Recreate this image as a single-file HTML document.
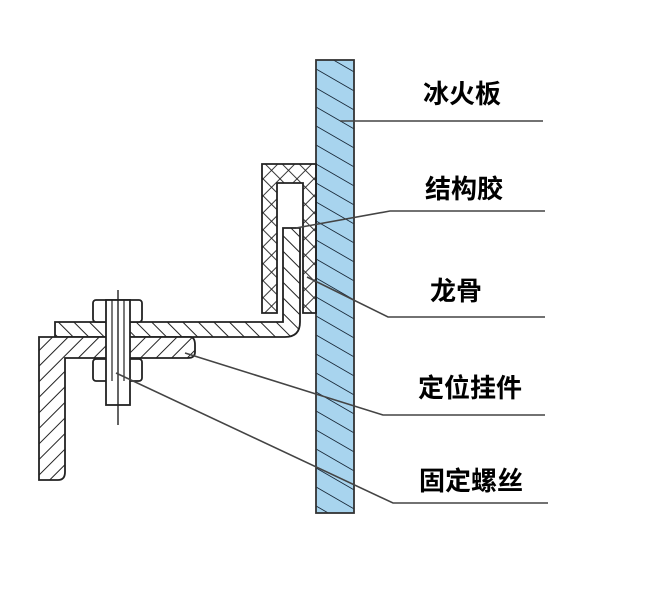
<!DOCTYPE html>
<html><head><meta charset="utf-8"><style>
html,body{margin:0;padding:0;background:#fff;width:657px;height:593px;overflow:hidden}
svg{display:block}
text{font-family:"Liberation Sans","Noto Sans CJK SC",sans-serif;font-weight:bold;font-size:26px;fill:#000}
</style></head><body>
<svg width="657" height="593" viewBox="0 0 657 593" xmlns="http://www.w3.org/2000/svg">
<defs>
<pattern id="pb" patternUnits="userSpaceOnUse" width="40" height="19" patternTransform="skewY(30)">
<line x1="0" y1="0" x2="40" y2="0" stroke="#1a2a3a" stroke-width="2"/>
</pattern>
<pattern id="hb" patternUnits="userSpaceOnUse" width="11" height="11" patternTransform="rotate(-45)">
<line x1="0" y1="0" x2="0" y2="11" stroke="#222" stroke-width="2"/>
</pattern>
<pattern id="hf" patternUnits="userSpaceOnUse" width="11" height="11" patternTransform="rotate(45)">
<line x1="0" y1="0" x2="0" y2="11" stroke="#222" stroke-width="2"/>
</pattern>
<pattern id="hx" patternUnits="userSpaceOnUse" width="12" height="12" patternTransform="rotate(45)">
<line x1="0" y1="0" x2="0" y2="12" stroke="#222" stroke-width="1.8"/>
<line x1="0" y1="0" x2="12" y2="0" stroke="#222" stroke-width="1.8"/>
</pattern>
</defs>
<rect x="316" y="60" width="38" height="453" fill="#a8d4ee"/>
<rect x="316" y="60" width="38" height="453" fill="url(#pb)"/>
<rect x="316" y="60" width="38" height="453" fill="none" stroke="#333" stroke-width="1.8"/>
<path d="M262,164 H316 V313 H303 V183 H277 V313 H262 Z" fill="url(#hx)" stroke="#222" stroke-width="1.8"/>
<path d="M283,228 H300 V322 Q300,337 285,337 H55 V322 H283 Z" fill="#fff"/>
<path d="M283,228 H300 V322 Q300,337 285,337 H55 V322 H283 Z" fill="url(#hb)" stroke="#222" stroke-width="1.8"/>
<path d="M39,337 H190 Q195,337 195,345 V352 Q195,358 188,358 H65 V472 Q65,480 58,480 H39 Z" fill="#fff"/>
<path d="M39,337 H190 Q195,337 195,345 V352 Q195,358 188,358 H65 V472 Q65,480 58,480 H39 Z" fill="url(#hf)" stroke="#222" stroke-width="1.8"/>
<rect x="93" y="300" width="49" height="22" rx="3" fill="#fff" stroke="#222" stroke-width="1.8"/>
<rect x="93" y="359" width="49" height="22" rx="3" fill="#fff" stroke="#222" stroke-width="1.8"/>
<rect x="106" y="300" width="24" height="105" fill="#fff" stroke="#222" stroke-width="1.8"/>
<line x1="112" y1="300" x2="112" y2="381" stroke="#222" stroke-width="1.2"/>
<line x1="124" y1="300" x2="124" y2="381" stroke="#222" stroke-width="1.2"/>
<line x1="118" y1="290" x2="118" y2="425" stroke="#222" stroke-width="1.4"/>
<g stroke="#444" stroke-width="1.6" fill="none">
<polyline points="340,121 543,121"/>
<polyline points="296,228 390,211 545,211"/>
<polyline points="307,277 388,317 545,317"/>
<polyline points="185,353 383,415 545,415"/>
<polyline points="116,373 393,503 548,503"/>
</g>
<text x="423" y="103">冰火板</text>
<text x="425" y="198">结构胶</text>
<text x="430" y="300">龙骨</text>
<text x="418" y="397">定位挂件</text>
<text x="419" y="490">固定螺丝</text>
</svg>
</body></html>
